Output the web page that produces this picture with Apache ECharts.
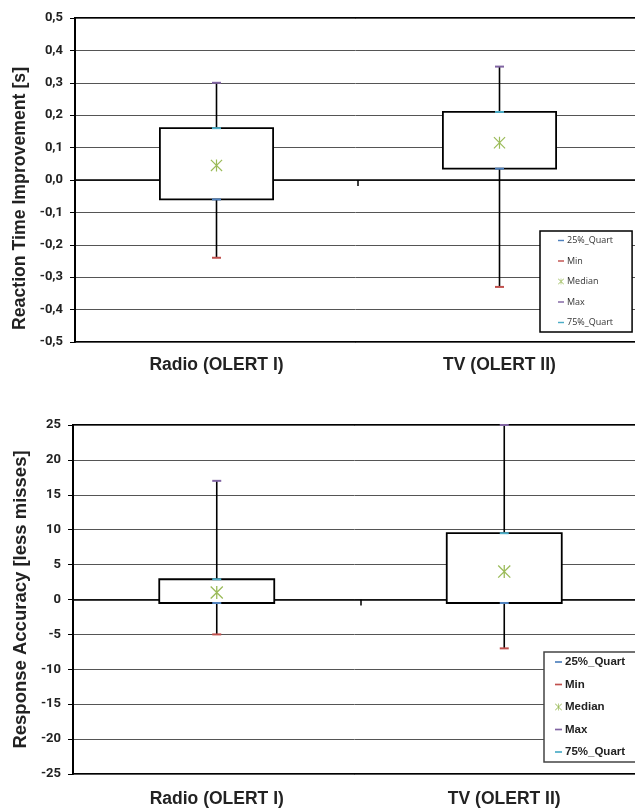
<!DOCTYPE html>
<html>
<head>
<meta charset="utf-8">
<script src="https://cdn.jsdelivr.net/npm/echarts@6/dist/echarts.min.js"></script>
<style>
  html, body { margin: 0; padding: 0; background: #fff; }
  #chart { width: 635px; height: 809px; }
</style>
</head>
<body>
<div id="chart"></div>
<script>
// categories
const categories = ['Radio (OLERT I)', 'TV (OLERT II)'];

// reaction time improvement [s]
const rtMin = [-0.24, -0.33];
const rtQ1 = [-0.06, 0.035];
const rtMedian = [0.045, 0.115];
const rtQ3 = [0.16, 0.21];
const rtMax = [0.30, 0.35];

// response accuracy [less misses]
const raMin = [-5, -7];
const raQ1 = [-0.5, -0.5];
const raMedian = [1, 4];
const raQ3 = [2.9, 9.5];
const raMax = [17, 25];

const legendNames = ['25%_Quart', 'Min', 'Median', 'Max', '75%_Quart'];

const COLORS = {
  '25%_Quart': '#4f81bd',
  'Min': '#c0504d',
  'Median': '#9bbb59',
  'Max': '#8064a2',
  '75%_Quart': '#4bacc6',
};

const DASH = 'path://M0,0h10v2.4h-10z';
const STAR = 'path://M4.5,0h1v10h-1z M0,0.7L0.7,0L10,9.3L9.3,10z M9.3,0L10,0.7L0.7,10L0,9.3z';
const BOX_RATIO = 0.4;

const chart = echarts.init(document.getElementById('chart'));

function renderBox(params, api) {
  const cat = api.value(0);
  const pMin = api.coord([cat, api.value(1)]);
  const pQ1 = api.coord([cat, api.value(2)]);
  const pQ3 = api.coord([cat, api.value(3)]);
  const pMax = api.coord([cat, api.value(4)]);
  const w = api.size([1, 0])[0] * BOX_RATIO;
  return {
    type: 'group',
    children: [
      {
        type: 'line',
        shape: { x1: pMin[0], y1: pMin[1], x2: pMax[0], y2: pMax[1] },
        style: { stroke: '#000', lineWidth: 1.6 },
      },
      {
        type: 'rect',
        shape: { x: pQ3[0] - w / 2, y: pQ3[1], width: w, height: pQ1[1] - pQ3[1] },
        style: { fill: '#fff', stroke: '#000', lineWidth: 1.8 },
      },
    ],
  };
}

function boxData(mins, q1s, q3s, maxs) {
  return categories.map((c, i) => [i, mins[i], q1s[i], q3s[i], maxs[i]]);
}

function statSeries(xIdx, yIdx, stats, starSize) {
  return legendNames.map((name) => ({
    name,
    type: 'scatter',
    xAxisIndex: xIdx,
    yAxisIndex: yIdx,
    z: 5,
    symbol: name === 'Median' ? STAR : 'rect',
    symbolSize: name === 'Median' ? starSize : [9, 2],
    itemStyle: { color: COLORS[name], opacity: 1 },
    emphasis: { disabled: true },
    data: stats[name],
  }));
}

const boldFont = { fontFamily: 'Liberation Sans', fontWeight: 'bold', color: '#222' };
const tickFont = { fontFamily: 'Roboto', fontWeight: 'bold', color: '#222' };

function xAxes(gridIndex, labelMargin) {
  return [
    {
      type: 'category',
      gridIndex,
      data: categories,
      position: 'bottom',
      axisLine: { show: false, onZero: false },
      axisTick: { show: false },
      axisLabel: { ...boldFont, fontSize: 17.5, margin: labelMargin },
      splitLine: { show: false },
    },
    {
      type: 'category',
      gridIndex,
      data: categories,
      position: 'bottom',
      axisLine: { onZero: true, lineStyle: { color: '#000', width: 1.5 } },
      axisTick: { show: true, length: 6, lineStyle: { color: '#000', width: 1.5 } },
      axisLabel: { show: false },
      splitLine: { show: false },
    },
  ];
}

function yAxis(gridIndex, min, max, interval, name, nameSize, namePad, fmt) {
  return {
    type: 'value',
    gridIndex,
    min,
    max,
    interval,
    name,
    nameLocation: 'middle',
    nameRotate: 90,
    nameGap: 39,
    nameTextStyle: { ...boldFont, fontSize: nameSize, padding: namePad },
    axisLine: { show: true, lineStyle: { color: '#000', width: 2 } },
    axisTick: { show: true, length: 5, lineStyle: { color: '#000', width: 1 } },
    axisLabel: { ...tickFont, fontSize: 13, margin: 12, formatter: fmt },
    splitLine: { lineStyle: { color: '#555', width: 1 } },
  };
}

function legendData() {
  return legendNames.map((name) => ({ name, icon: name === 'Median' ? STAR : DASH }));
}

const gridBase = {
  show: true,
  borderColor: '#000',
  borderWidth: 2,
  backgroundColor: 'transparent',
  containLabel: false,
  outerBoundsMode: 'none',
};

const option = {
  backgroundColor: '#fff',
  animation: false,
  grid: [
    { ...gridBase, left: 75, top: 18, height: 324, width: 566 },
    { ...gridBase, left: 73, top: 425, height: 349, width: 575 },
  ],
  xAxis: [...xAxes(0, 14), ...xAxes(1, 16)],
  yAxis: [
    yAxis(0, -0.5, 0.5, 0.1, 'Reaction Time Improvement [s]', 17.7, [0, 37, 0, 0], (v) =>
      (Math.abs(v) < 1e-9 ? 0 : v).toFixed(1).replace('.', ',')),
    yAxis(1, -25, 25, 5, 'Response Accuracy [less misses]', 18.5, 0, (v) => String(v)),
  ],
  legend: [
    {
      orient: 'vertical',
      left: 540,
      top: 231,
      data: legendData(),
      itemWidth: 6,
      itemHeight: 6,
      itemGap: 11.5,
      padding: [5, 19, 5, 18],
      borderColor: '#000',
      borderWidth: 1.5,
      backgroundColor: '#fff',
      selectedMode: false,
      textStyle: { fontFamily: 'Open Sans', fontSize: 9, color: '#333', padding: [0, 0, 0, -2] },
    },
    {
      orient: 'vertical',
      left: 544,
      top: 652,
      data: legendData(),
      itemWidth: 7,
      itemHeight: 7,
      itemGap: 10.5,
      padding: [4, 30, 4, 11],
      borderColor: '#444',
      borderWidth: 1.5,
      backgroundColor: '#fff',
      selectedMode: false,
      textStyle: { ...boldFont, fontSize: 11.5, padding: [0, 0, 0, -2] },
    },
  ],
  series: [
    {
      name: 'box-rt',
      type: 'custom',
      xAxisIndex: 0,
      yAxisIndex: 0,
      renderItem: renderBox,
      encode: { x: 0, y: [1, 2, 3, 4] },
      data: boxData(rtMin, rtQ1, rtQ3, rtMax),
    },
    {
      name: 'box-ra',
      type: 'custom',
      xAxisIndex: 2,
      yAxisIndex: 1,
      renderItem: renderBox,
      encode: { x: 0, y: [1, 2, 3, 4] },
      data: boxData(raMin, raQ1, raQ3, raMax),
    },
    ...statSeries(0, 0, {
      '25%_Quart': rtQ1, 'Min': rtMin, 'Median': rtMedian, 'Max': rtMax, '75%_Quart': rtQ3,
    }, 12),
    ...statSeries(2, 1, {
      '25%_Quart': raQ1, 'Min': raMin, 'Median': raMedian, 'Max': raMax, '75%_Quart': raQ3,
    }, 13),
  ],
};

chart.setOption(option);
</script>
</body>
</html>
